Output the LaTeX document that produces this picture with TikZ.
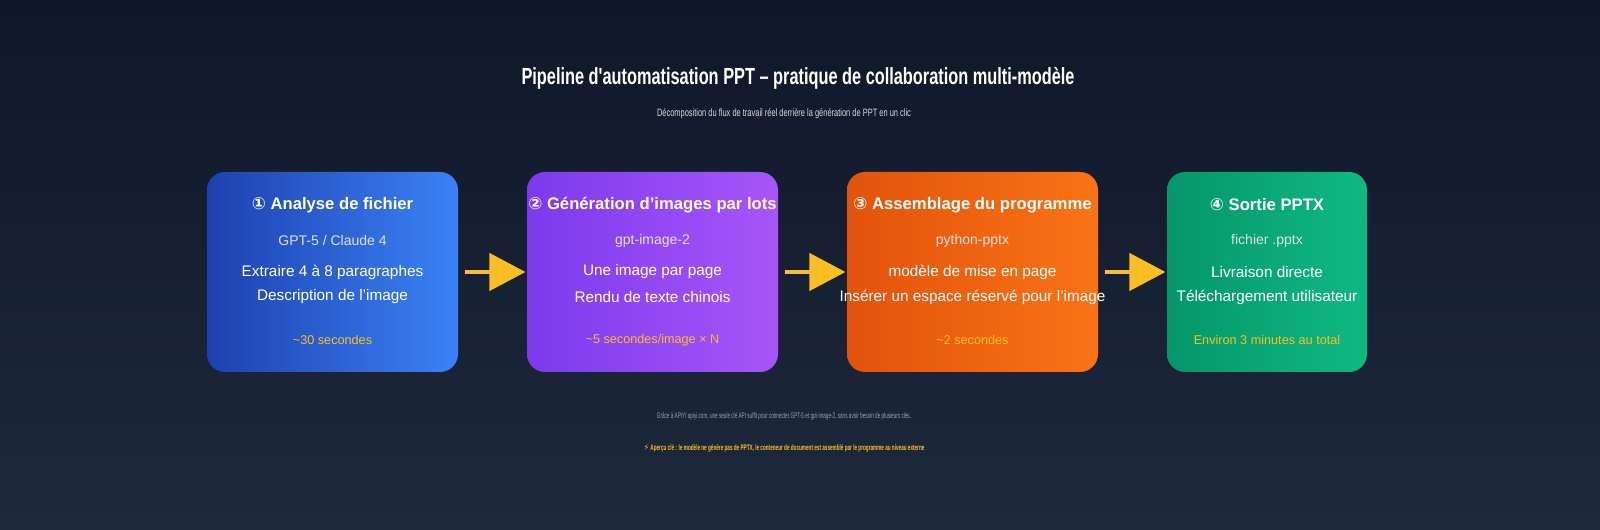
\documentclass[tikz,border=0pt]{standalone}
\usepackage{fontspec}
\setmainfont{Liberation Sans}
\newfontfamily\symfont{DejaVu Sans}
\newfontfamily\condfont[FakeStretch=0.7]{Liberation Sans}
\newfontfamily\narrowfont[FakeStretch=0.58]{Liberation Sans}
\usetikzlibrary{positioning,arrows.meta}
\definecolor{bgtop}{HTML}{0F172A}
\definecolor{bgbot}{HTML}{1E293B}
\definecolor{gold}{HTML}{FBBF24}
\definecolor{foot}{HTML}{94A3B8}
\definecolor{blueA}{HTML}{1E40AF}
\definecolor{blueB}{HTML}{3B82F6}
\definecolor{violetA}{HTML}{7C3AED}
\definecolor{violetB}{HTML}{A855F7}
\definecolor{orangeA}{HTML}{E2530C}
\definecolor{orangeB}{HTML}{F97316}
\definecolor{greenA}{HTML}{059669}
\definecolor{greenB}{HTML}{10B981}
\newcommand{\circnum}[1]{{\symfont #1}}
\tikzset{
  stepcard/.style={rounded corners=13.5pt, minimum width=188.25pt, minimum height=150pt, inner sep=0pt},
  cardshade/.style 2 args={rounded corners=13.5pt, shading angle=135, left color=#1, right color=#2},
  headtxt/.style={text=white, font=\bfseries\fontsize{12.5}{14}\selectfont},
  subtxt/.style={text=white!88!black, font=\fontsize{10.5}{12}\selectfont},
  bodytxt/.style={text=white, font=\fontsize{11.5}{14}\selectfont},
  timetxt/.style={text=gold, font=\fontsize{9.5}{11}\selectfont},
  flow/.style={gold, line width=2.5pt, -{Triangle[width=28pt,length=27pt]}}
}
\begin{document}
\begin{tikzpicture}[x=0.75pt,y=-0.75pt]
\shade[top color=bgtop, bottom color=bgbot] (0,0) rectangle (1600,530);
\useasboundingbox (0,0) rectangle (1600,530);
% title
\node (title) at (798,78) {\condfont\bfseries\color{white}\fontsize{17.5}{20}\selectfont Pipeline d'automatisation PPT \textendash\ pratique de collaboration multi-modèle};
\node (subtitle) at (784,114) {\condfont\color{white!85!black}\fontsize{8}{10}\selectfont Décomposition du flux de travail réel derrière la génération de PPT en un clic};
% cards
\shade[cardshade={blueA}{blueB}] (207,172) rectangle (458,372);
\shade[cardshade={violetA}{violetB}] (527,172) rectangle (778,372);
\shade[cardshade={orangeA}{orangeB}] (847,172) rectangle (1098,372);
\shade[cardshade={greenA}{greenB}] (1167,172) rectangle (1367,372);
\node[stepcard] (card1) at (332.5,272) {};
\node[stepcard] (card2) at (652.5,272) {};
\node[stepcard] (card3) at (972.5,272) {};
\node[stepcard, minimum width=150pt] (card4) at (1267,272) {};
% card 1
\node[headtxt] at (332.5,205) {\circnum{①} Analyse de fichier};
\node[subtxt] at (332.5,241) {GPT-5 / Claude 4};
\node[bodytxt] at (332.5,272) {Extraire 4 à 8 paragraphes};
\node[bodytxt] at (332.5,297) {Description de l'image};
\node[timetxt] at (332.5,340) {\textasciitilde30 secondes};
% card 2
\node[headtxt] at (652.5,205) {\circnum{②} Génération d'images par lots};
\node[subtxt] at (652.5,241) {gpt-image-2};
\node[bodytxt] at (652.5,272) {Une image par page};
\node[bodytxt] at (652.5,297) {Rendu de texte chinois};
\node[timetxt] at (652.5,340) {\textasciitilde5 secondes/image × N};
% card 3
\node[headtxt] at (972.5,205) {\circnum{③} Assemblage du programme};
\node[subtxt] at (972.5,241) {python-pptx};
\node[bodytxt] at (972.5,272) {modèle de mise en page};
\node[bodytxt] at (972.5,297) {Insérer un espace réservé pour l'image};
\node[timetxt] at (972.5,340) {\textasciitilde2 secondes};
% card 4
\node[headtxt] at (1267,205) {\circnum{④} Sortie PPTX};
\node[subtxt] at (1267,241) {fichier .pptx};
\node[bodytxt] at (1267,272) {Livraison directe};
\node[bodytxt] at (1267,297) {Téléchargement utilisateur};
\node[timetxt] at (1267,340) {Environ 3 minutes au total};
% arrows
\draw[flow] ([xshift=5pt]card1.east) -- ([xshift=-1pt]card2.west);
\draw[flow] ([xshift=5pt]card2.east) -- ([xshift=-1pt]card3.west);
\draw[flow] ([xshift=5pt]card3.east) -- ([xshift=-1pt]card4.west);
% footer
\node (note) at (784,416) {\narrowfont\color{foot}\fontsize{6}{7}\selectfont Grâce à APIYI apiyi.com, une seule clé API suffit pour connecter GPT-5 et gpt-image-2, sans avoir besoin de plusieurs clés.};
\node (hint) at (784,448) {\color{gold}\fontsize{6}{7}\selectfont{\symfont ⚡}\narrowfont\bfseries\ Aperçu clé : le modèle ne génère pas de PPTX, le conteneur de document est assemblé par le programme au niveau externe};
\end{tikzpicture}
\end{document}
